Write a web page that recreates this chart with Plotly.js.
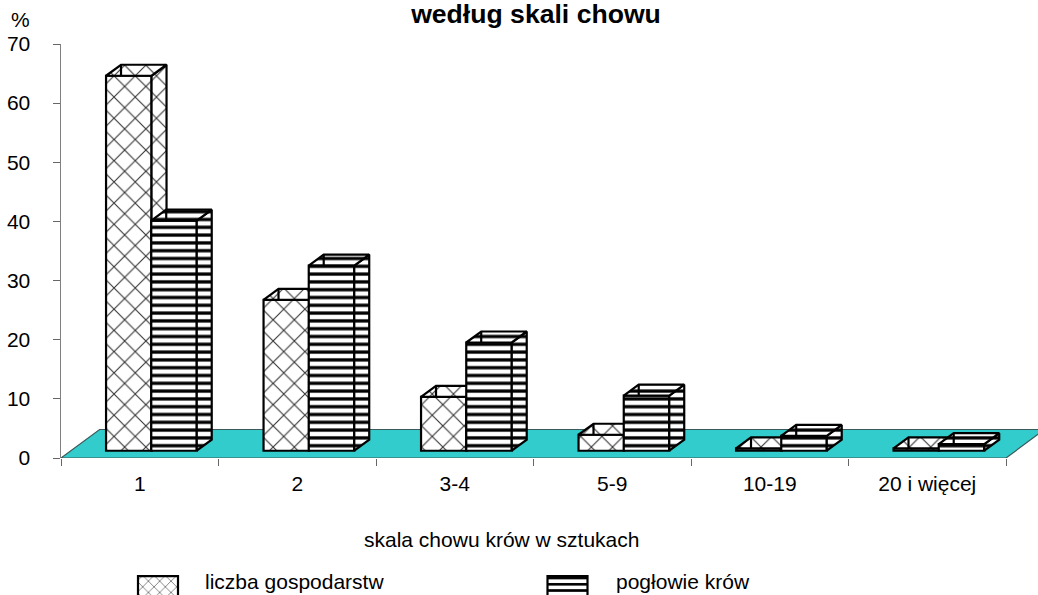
<!DOCTYPE html>
<html>
<head>
<meta charset="utf-8">
<script src="https://cdn.plot.ly/plotly-3.0.1.min.js"></script>
<style>html,body{margin:0;padding:0;background:#fff;overflow:hidden}</style>
</head>
<body>
<div id="chart" style="width:1038px;height:595px"></div>
<script>
const categories = ['1', '2', '3-4', '5-9', '10-19', '20 i więcej'];
const liczbaGospodarstw = [63.4, 25.5, 9.1, 2.7, 0.4, 0.4];
const poglowieKrow = [38.9, 31.3, 18.3, 9.3, 2.5, 1.1];
const seriesNames = ['liczba gospodarstw', 'pogłowie krów'];

const positions = categories.map((c, i) => i);
const FONT = '"Liberation Sans", Arial, sans-serif';
const pattern1 = {shape: 'x', size: 15, solidity: 0.14, fgcolor: '#333', bgcolor: '#fff', fillmode: 'replace'};
const pattern2 = {shape: '-', size: 7.8, solidity: 0.42, fgcolor: '#000', bgcolor: '#fff', fillmode: 'replace'};

// pseudo-3D projection, in data units
const BASE = 1.23, DX = 0.095, DY = 1.86, BW = 0.289;
const FLOOR_DX = 0.245, FLOOR_DY = 4.82;

function seriesTraces(values, off, name, pat, xa, legendId) {
  const sx = [], sy = [], tx = [], ty = [], ex = [], ey = [];
  values.forEach((v, i) => {
    const l = i + off, r = l + BW, top = BASE + v;
    sx.push(r, r + DX, r + DX, r, r, null);
    sy.push(BASE, BASE + DY, top + DY, top, BASE, null);
    tx.push(l, l + DX, r + DX, r, l, null);
    ty.push(top, top + DY, top + DY, top, top, null);
    ex.push(l + DX, l + DX, null);
    ey.push(top + DY, top, null);
  });
  const line = {color: '#000', width: 2.2};
  return [
    {type: 'bar', x: positions, y: values, base: BASE, offset: off, width: BW, name: name,
     xaxis: xa, yaxis: 'y', legend: legendId, cliponaxis: false, hoverinfo: 'skip',
     marker: {color: '#fff', pattern: pat, line: {color: '#000', width: 2.2}}},
    {type: 'scatter', mode: 'lines', x: sx, y: sy, fill: 'toself', fillpattern: pat, fillcolor: '#fff',
     line: line, xaxis: xa, yaxis: 'y', showlegend: false, cliponaxis: false, hoverinfo: 'skip'},
    {type: 'scatter', mode: 'lines', x: tx, y: ty, fill: 'toself', fillpattern: pat, fillcolor: '#fff',
     line: line, xaxis: xa, yaxis: 'y', showlegend: false, cliponaxis: false, hoverinfo: 'skip'},
    {type: 'scatter', mode: 'lines', x: ex, y: ey, line: line, xaxis: xa, yaxis: 'y',
     showlegend: false, cliponaxis: false, hoverinfo: 'skip'}
  ];
}

const lo = -0.5, hi = categories.length - 0.5;
const viewHi = lo + 977 / 157.5; // the floor runs on past the last category, to the page edge
const floor = {
  type: 'scatter', mode: 'lines',
  x: [lo, hi, hi + FLOOR_DX, lo + FLOOR_DX, lo],
  y: [0, 0, FLOOR_DY, FLOOR_DY, 0],
  fill: 'toself', fillcolor: '#33CCCC',
  line: {color: '#3c5a5a', width: 1.2},
  xaxis: 'x', yaxis: 'y', showlegend: false, cliponaxis: false, hoverinfo: 'skip'
};

const traces = [floor]
  .concat(seriesTraces(liczbaGospodarstw, -0.214, seriesNames[0], pattern1, 'x2', 'legend'))
  .concat(seriesTraces(poglowieKrow, 0.073, seriesNames[1], pattern2, 'x3', 'legend2'));

const fs = 21;
const legendCommon = {
  orientation: 'v', xref: 'container', yref: 'container', yanchor: 'top', xanchor: 'left',
  y: 1 - 561 / 595, bgcolor: 'rgba(0,0,0,0)', entrywidth: 260, font: {family: FONT, size: fs, color: '#000'}
};
const layout = {
  width: 1038, height: 595,
  margin: {l: 61, r: 0, t: 44, b: 137, pad: 0, autoexpand: false},
  paper_bgcolor: '#fff', plot_bgcolor: 'rgba(0,0,0,0)',
  font: {family: FONT, size: fs, color: '#000'},
  barmode: 'overlay',
  title: {text: '<b>według skali chowu</b>', font: {family: FONT, size: 26.6, color: '#000'},
          x: 536 / 1038, xref: 'container', xanchor: 'center', y: 1 - 14 / 595, yref: 'container', yanchor: 'middle'},
  xaxis: {range: [lo, viewHi], tickmode: 'array', tickvals: categories.concat(['']).map((c, i) => i - 0.5),
          showticklabels: false, ticks: 'outside', ticklen: 7, tickcolor: '#666', tickwidth: 1,
          showline: false, showgrid: false, zeroline: false, fixedrange: true},
  xaxis2: {range: [lo, viewHi], overlaying: 'x', anchor: 'y', visible: false, fixedrange: true},
  xaxis3: {range: [lo, viewHi], overlaying: 'x', anchor: 'y', side: 'bottom', tickmode: 'array',
           tickvals: positions, ticktext: categories, ticks: '', showline: false, showgrid: false, zeroline: false,
           ticklabelstandoff: 11, tickfont: {family: FONT, size: fs, color: '#000'}, fixedrange: true},
  yaxis: {range: [0, 70], tickmode: 'linear', tick0: 0, dtick: 10, ticks: 'outside', ticklen: 7,
          tickcolor: '#666', tickwidth: 1, showline: true, linecolor: '#808080', linewidth: 1.5,
          showgrid: false, zeroline: false, ticklabelstandoff: 18,
          tickfont: {family: FONT, size: fs, color: '#000'}, fixedrange: true},
  legend: Object.assign({x: 137 / 1038, itemwidth: 58}, legendCommon),
  legend2: Object.assign({x: 533 / 1038, itemwidth: 73}, legendCommon),
  annotations: [
    {text: '%', xref: 'paper', yref: 'paper', x: (20 - 61) / 977, y: (458 - 20) / 414, showarrow: false,
     xanchor: 'center', yanchor: 'middle', font: {family: FONT, size: fs, color: '#000'}},
    {text: 'skala chowu krów w sztukach', xref: 'paper', yref: 'paper', x: (501 - 61) / 977, y: (458 - 539) / 414,
     showarrow: false, xanchor: 'center', yanchor: 'middle', font: {family: FONT, size: fs, color: '#000'}}
  ],
  showlegend: true
};

function finish(gd) {
  // wide legend keys, as in the reference
  const keys = ['M-33,-5H7V16H-33Z', 'M-27,-5H13V16H-27Z'];
  gd.querySelectorAll('g.legendpoints path').forEach((p, i) => p.setAttribute('d', keys[i % 2]));
  gd.querySelectorAll('g.scrollbox').forEach(s => s.removeAttribute('clip-path'));
  gd.querySelectorAll('.infolayer [class^="legend"], .infolayer [class^="legend"] g').forEach(s => s.style.clipPath = 'none');
}
Plotly.newPlot('chart', traces, layout, {displayModeBar: false, staticPlot: true}).then(gd => {
  finish(gd);
  requestAnimationFrame(() => finish(gd));
  setTimeout(() => finish(gd), 50);
});
</script>
</body>
</html>
